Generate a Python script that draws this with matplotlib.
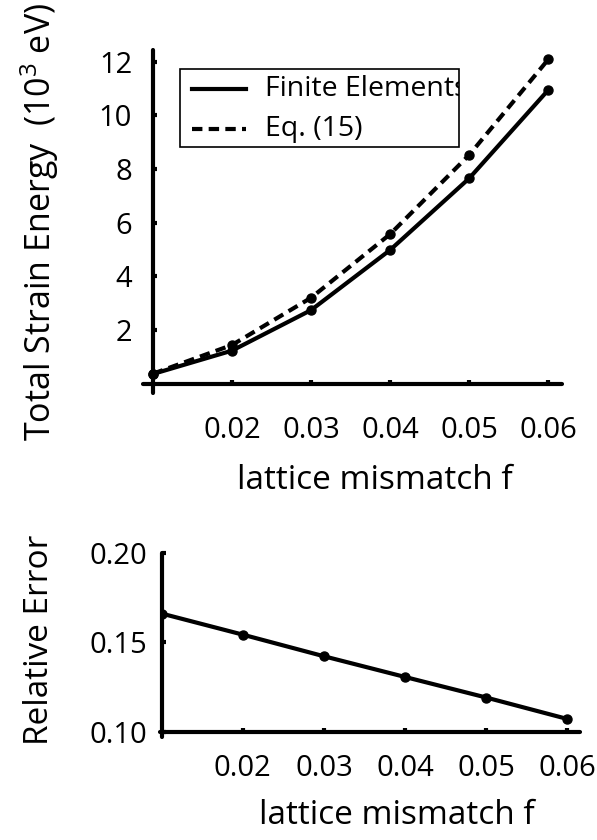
import numpy as np
import matplotlib
matplotlib.use("Agg")
import matplotlib.pyplot as plt
from matplotlib.patches import Rectangle
from matplotlib.lines import Line2D

plt.rcParams['font.family'] = ['Open Sans', 'DejaVu Sans']
plt.rcParams['mathtext.fontset'] = 'custom'
plt.rcParams['mathtext.rm'] = 'Open Sans'
plt.rcParams['mathtext.it'] = 'Open Sans'

# data
mismatch = [0.01, 0.02, 0.03, 0.04, 0.05, 0.06]
energy_fe = [0.36, 1.23, 2.74, 4.98, 7.65, 10.94]      # Finite Elements, 10^3 eV
energy_eq = [0.37, 1.44, 3.20, 5.57, 8.52, 12.08]      # Eq. (15)
rel_error = [0.1661, 0.1543, 0.1422, 0.1306, 0.1191, 0.1071]

xticks = [0.02, 0.03, 0.04, 0.05, 0.06]
yticks_top = [2, 4, 6, 8, 10, 12]
yticks_bot = [0.10, 0.15, 0.20]

LW = 3.0
MS = 6.5

fig = plt.figure(figsize=(5.97, 8.40), dpi=100)

# ---- top panel: total strain energy
ax1 = fig.add_axes([0.239, 0.5321, 0.7018, 0.4083])
ax1.plot(mismatch, energy_fe, '-', color='black', lw=LW, marker='o', ms=MS)
ax1.plot(mismatch, energy_eq, color='black', lw=LW, marker='o', ms=MS,
         linestyle=(0, (2.5, 1.5)))
ax1.set_xlim(0.0087, 0.0617)
ax1.set_ylim(-0.35, 12.43)
ax1.spines['left'].set_position(('data', 0.01))
ax1.spines['bottom'].set_position(('data', 0))
ax1.set_xticks(xticks)
ax1.set_xticklabels(['%.2f' % v for v in xticks])
ax1.set_yticks(yticks_top)
ax1.set_yticklabels([str(v) for v in yticks_top])
ax1.tick_params(axis='x', pad=23)
ax1.tick_params(axis='y', pad=15)
ax1.set_xlabel('lattice mismatch f', fontsize=24)
ax1.set_ylabel('Total Strain Energy  (10$^3$ eV)', fontsize=24.5)
ax1.xaxis.set_label_coords(0.554, -0.255)
ax1.xaxis.label.set_va('center')
ax1.yaxis.set_label_coords(-0.245, 0.499)
ax1.yaxis.label.set_va('center')

# hand-drawn legend box (text runs past the frame and is clipped, as in the original)
box = Rectangle((0.089, 0.717), 0.666, 0.228, transform=ax1.transAxes,
                facecolor='white', edgecolor='black', lw=1.2, zorder=5)
ax1.add_patch(box)
ax1.add_line(Line2D([0.118, 0.247], [0.886, 0.886], transform=ax1.transAxes,
                    color='black', lw=LW, zorder=6))
ax1.add_line(Line2D([0.118, 0.247], [0.770, 0.770], transform=ax1.transAxes,
                    color='black', lw=LW, linestyle=(0, (2.5, 1.5)), zorder=6))
for yy, lab in [(0.886, 'Finite Elements'), (0.770, 'Eq. (15)')]:
    t = ax1.text(0.292, yy, lab, transform=ax1.transAxes, fontsize=20.5,
                 va='center', ha='left', zorder=7)
    t.set_clip_path(box)
    t.set_clip_on(True)

# ---- bottom panel: relative error
ax2 = fig.add_axes([0.268, 0.1230, 0.7035, 0.2187])
ax2.plot(mismatch, rel_error, '-', color='black', lw=LW, marker='o', ms=MS)
ax2.set_xlim(0.0098, 0.06155)
ax2.set_ylim(0.0972, 0.1993)
ax2.spines['left'].set_position(('data', 0.01))
ax2.spines['bottom'].set_position(('data', 0.10))
ax2.set_xticks(xticks)
ax2.set_xticklabels(['%.2f' % v for v in xticks])
ax2.set_yticks(yticks_bot)
ax2.set_yticklabels(['%.2f' % v for v in yticks_bot])
ax2.tick_params(axis='x', pad=16)
ax2.tick_params(axis='y', pad=10)
ax2.set_xlabel('lattice mismatch f', fontsize=24)
ax2.set_ylabel('Relative Error', fontsize=24)
ax2.xaxis.set_label_coords(0.564, -0.43)
ax2.xaxis.label.set_va('center')
ax2.yaxis.set_label_coords(-0.286, 0.526)
ax2.yaxis.label.set_va('center')

for ax in (ax1, ax2):
    ax.spines['top'].set_visible(False)
    ax.spines['right'].set_visible(False)
    ax.spines['left'].set_linewidth(3)
    ax.spines['bottom'].set_linewidth(3)
    ax.spines['left'].set_capstyle('round')
    ax.spines['bottom'].set_capstyle('round')
    ax.tick_params(direction='in', length=3, width=3, labelsize=21)

fig.savefig('out.png', dpi=100)
